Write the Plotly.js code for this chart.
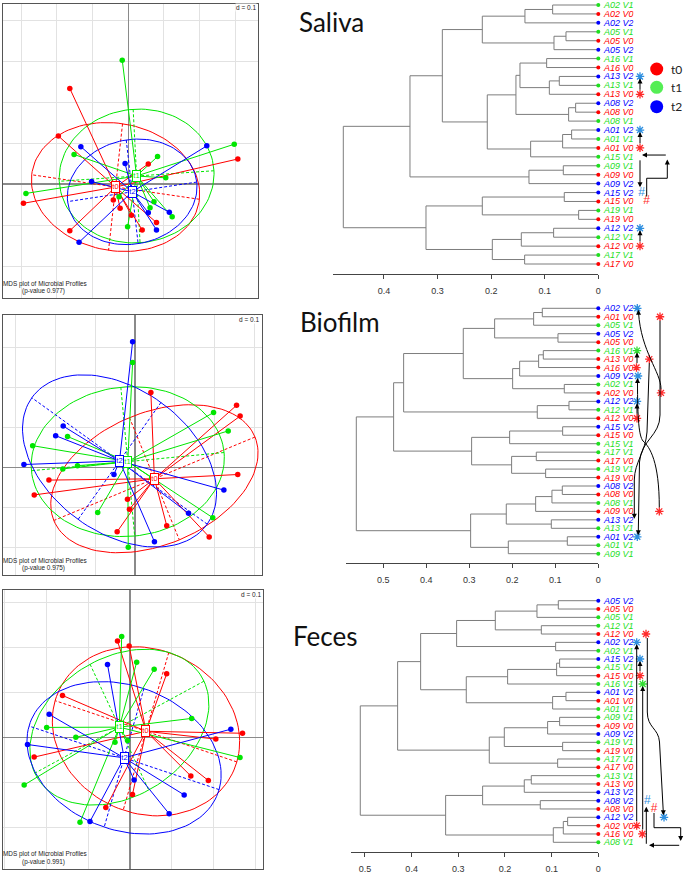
<!DOCTYPE html>
<html><head><meta charset="utf-8">
<script src="https://cdn.plot.ly/plotly-3.0.1.min.js"></script>
<style>html,body{margin:0;padding:0;background:#fff}#chart{width:685px;height:873px}</style>
</head><body><div id="chart"></div>
<script>
// ================= DATA =================
const groupNames = ['t0', 't1', 't2'];
const groupColors = ['#ff0000', '#00e600', '#0000ff'];
const pValues = ['0.977', '0.975', '0.991'];
const panelTitles = ['Saliva', 'Biofilm', 'Feces'];

// MDS coordinates (group t0 = V0, t1 = V1, t2 = V2)
const salivaT0x = [-0.164, -0.196, -0.294, -0.164, -0.042, -0.023, 0.009, 0.039, 0.079, 0.056, 0.307];
const salivaT0y = [0.233, 0.117, -0.047, -0.114, -0.039, -0.059, -0.076, -0.112, -0.094, 0.049, 0.061];
const salivaT1x = [-0.017, -0.152, -0.287, 0.082, 0.105, -0.026, 0.061, 0.072, 0.123, -0.002, 0.297];
const salivaT1y = [0.302, 0.072, -0.023, 0.067, 0.015, -0.031, -0.058, -0.043, -0.080, -0.104, 0.097];
const salivaT2x = [-0.133, -0.103, -0.009, -0.138, 0.056, 0.079, 0.115, 0.220];
const salivaT2y = [0.091, 0.006, 0.050, -0.142, -0.070, -0.112, -0.069, 0.093];

const biofilmT0x = [0.040, 0.256, 0.265, 0.259, -0.217, -0.254, -0.019, -0.014, -0.045, 0.080, 0.187];
const biofilmT0y = [0.188, 0.156, 0.129, -0.017, -0.031, -0.068, -0.079, -0.104, -0.160, -0.145, -0.173];
const biofilmT1x = [-0.006, 0.198, 0.235, -0.170, -0.258, -0.145, -0.182, -0.094, -0.017, 0.196, 0.042];
const biofilmT1y = [0.263, 0.138, 0.092, 0.078, 0.055, 0.005, -0.003, -0.112, -0.199, -0.125, -0.025];
const biofilmT2x = [-0.006, -0.181, -0.200, -0.280, -0.053, 0.224, 0.135, 0.049];
const biofilmT2y = [0.315, 0.104, 0.080, 0.008, -0.017, -0.056, -0.114, -0.185];

const fecesT0x = [-0.030, -0.002, 0.088, -0.162, -0.230, -0.058, 0.006, 0.146, 0.188, 0.206, 0.270];
const fecesT0y = [0.214, 0.203, 0.141, 0.093, -0.044, -0.156, -0.127, -0.086, -0.096, -0.004, 0.009];
const fecesT1x = [-0.020, 0.016, 0.058, 0.148, 0.264, -0.200, -0.130, -0.036, -0.006, -0.254, -0.120];
const fecesT1y = [0.224, 0.167, 0.151, 0.042, -0.045, 0.022, 0.000, -0.011, -0.007, -0.106, -0.189];
const fecesT2x = [-0.054, -0.194, -0.246, 0.242, 0.010, 0.130, 0.094, -0.096];
const fecesT2y = [0.162, 0.051, -0.016, 0.018, -0.095, -0.128, -0.170, -0.187];

// Dendrograms: leaves in display order (top to bottom); merges like R hclust
// (negative = leaf number, positive = earlier merge number)
const salivaLabels = ['A02 V1','A02 V0','A02 V2','A05 V1','A05 V0','A05 V2','A16 V1','A16 V0','A13 V2','A13 V1','A13 V0','A08 V2','A08 V0','A08 V1','A01 V2','A01 V1','A01 V0','A15 V1','A09 V1','A09 V0','A09 V2','A15 V2','A15 V0','A19 V1','A19 V0','A12 V2','A12 V1','A12 V0','A17 V1','A17 V0'];
const salivaMergeA = [-1, 1, -4, 3, 2, -7, -9, 7, 6, -12, 10, 9, -15, 13, 14, 12, 5, -19, 18, 17, -22, -24, 21, -26, 24, -29, 25, 23, 20];
const salivaMergeB = [-2, -3, -5, -6, 4, -8, -10, -11, 8, -13, -14, 11, -16, -17, -18, 15, 16, -20, -21, 19, -23, -25, 22, -27, -28, -30, 26, 27, 28];
const salivaHeights = [0.0852, 0.1369, 0.0603, 0.0827, 0.2165, 0.0964, 0.0728, 0.0914, 0.1462, 0.0423, 0.0554, 0.1537, 0.0498, 0.0666, 0.1263, 0.2072, 0.2911, 0.0653, 0.1294, 0.3515, 0.0635, 0.0367, 0.2165, 0.0834, 0.1437, 0.1375, 0.1978, 0.3216, 0.4759];

const biofilmLabels = ['A02 V2','A01 V0','A05 V1','A05 V2','A05 V0','A16 V1','A13 V0','A16 V0','A09 V2','A02 V1','A02 V0','A12 V2','A12 V1','A12 V0','A15 V2','A15 V0','A15 V1','A17 V1','A17 V0','A19 V1','A19 V0','A08 V2','A08 V0','A08 V1','A09 V0','A13 V2','A13 V1','A01 V2','A01 V1','A09 V1'];
const biofilmMergeA = [-1, 1, -4, 2, -6, 5, 6, -10, 7, 4, -12, 11, 10, -15, 14, -18, -20, 16, 15, 13, -22, 21, 22, -26, 23, -28, 26, 25, 20];
const biofilmMergeB = [-2, -3, -5, 3, -7, -8, -9, -11, 8, 9, -13, -14, 12, -16, -17, -19, -21, 17, 18, 19, -23, -24, -25, -27, 24, -29, -30, 27, 28];
const biofilmHeights = [0.1302, 0.1504, 0.0938, 0.2411, 0.1279, 0.1388, 0.1829, 0.0791, 0.1992, 0.3140, 0.0682, 0.1419, 0.4527, 0.0829, 0.2062, 0.1442, 0.1225, 0.2016, 0.2946, 0.4760, 0.0837, 0.1078, 0.1457, 0.1093, 0.2140, 0.0721, 0.2093, 0.2969, 0.5628];

const fecesLabels = ['A05 V2','A05 V0','A05 V1','A12 V1','A12 V0','A02 V2','A02 V1','A15 V2','A15 V1','A15 V0','A16 V1','A01 V2','A01 V0','A01 V1','A09 V1','A09 V0','A09 V2','A19 V1','A19 V0','A17 V1','A17 V0','A13 V1','A13 V0','A13 V2','A08 V2','A08 V0','A12 V2','A02 V0','A16 V0','A08 V1'];
const fecesMergeA = [-1, 1, -4, 2, -6, 4, -8, 7, 8, -12, 10, 9, 6, -15, 14, -18, 15, -20, 17, 13, -22, 21, -25, 22, -27, 25, 26, 24, 20];
const fecesMergeB = [-2, -3, -5, 3, -7, 5, -9, -10, -11, -13, -14, 11, 12, -16, -17, -19, 16, -21, 18, 19, -23, -24, -26, 23, -28, -29, -30, 27, 28];
const fecesHeights = [0.0857, 0.1314, 0.1221, 0.2207, 0.0914, 0.3036, 0.0829, 0.0893, 0.1943, 0.0693, 0.0979, 0.2829, 0.3807, 0.0829, 0.1086, 0.0764, 0.2014, 0.0871, 0.2336, 0.4300, 0.1436, 0.1586, 0.1243, 0.2479, 0.0657, 0.075, 0.0964, 0.3271, 0.51];

const salivaTicks = [0.4, 0.3, 0.2, 0.1, 0];
const biofilmTicks = [0.5, 0.4, 0.3, 0.2, 0.1, 0];
const fecesTicks = [0.5, 0.4, 0.3, 0.2, 0.1, 0];

// ================= LAYOUT CONSTANTS (pixels) =================
const W = 685, H = 873;
const FONT = 'Liberation Sans, Arial, sans-serif';
const TFONT = 'Lato, Open Sans, sans-serif';
const mdsBox = [
  {l: 2.7, r: 258.3, t: 4, b: 298, ox: 128.3, oy: 184, ux: 35.67, uy: 41, dY: 7.5, t1Y: 284, t2Y: 291},
  {l: 2.7, r: 261.7, t: 315, b: 575, ox: 135, oy: 467.7, ux: 39.67, uy: 40, dY: 319, t1Y: 561, t2Y: 567.8},
  {l: 2.7, r: 263.3, t: 590, b: 869, ox: 130, oy: 737.3, ux: 41.67, uy: 45, dY: 594.3, t1Y: 854.3, t2Y: 861.7}
];
const dendBox = [
  {left: 332.7, zero: 598.3, per01: 53.58, leafTop: 5, leafBottom: 264, axisY: 274, top: 0, titleY: 21.5, titleX: 297},
  {left: 346, zero: 598.3, per01: 43.0, leafTop: 308.3, leafBottom: 553.7, axisY: 562.7, top: 296, titleY: 322, titleX: 298},
  {left: 350.7, zero: 598.3, per01: 46.67, leafTop: 600.7, leafBottom: 842.3, axisY: 851.7, top: 590, titleY: 636, titleX: 291}
];

const mdsData = [
  [[salivaT0x, salivaT0y], [salivaT1x, salivaT1y], [salivaT2x, salivaT2y]],
  [[biofilmT0x, biofilmT0y], [biofilmT1x, biofilmT1y], [biofilmT2x, biofilmT2y]],
  [[fecesT0x, fecesT0y], [fecesT1x, fecesT1y], [fecesT2x, fecesT2y]]
];
const dendData = [
  [salivaLabels, salivaMergeA, salivaMergeB, salivaHeights, salivaTicks],
  [biofilmLabels, biofilmMergeA, biofilmMergeB, biofilmHeights, biofilmTicks],
  [fecesLabels, fecesMergeA, fecesMergeB, fecesHeights, fecesTicks]
];

const traces = [], annotations = [], shapes = [];
const layout = {
  width: W, height: H, margin: {l: 0, r: 0, t: 0, b: 0},
  paper_bgcolor: '#ffffff', plot_bgcolor: 'rgba(0,0,0,0)', showlegend: false,
  font: {family: FONT}
};

// ---- ade4-style ellipse (s.class, cellipse = 1.5) ----
function ellipseOf(xs, ys, coeff) {
  const n = xs.length;
  const mx = xs.reduce((a, b) => a + b, 0) / n;
  const my = ys.reduce((a, b) => a + b, 0) / n;
  let vx = 0, vy = 0, cxy = 0;
  for (let i = 0; i < n; i++) {
    vx += (xs[i] - mx) ** 2 / n; vy += (ys[i] - my) ** 2 / n; cxy += (xs[i] - mx) * (ys[i] - my) / n;
  }
  const delta = Math.sqrt((vx - vy) ** 2 + 4 * cxy * cxy);
  let l1 = (vx + vy + delta) / 2, l2 = vx + vy - l1;
  l1 = Math.sqrt(Math.max(l1, 0)); l2 = Math.sqrt(Math.max(l2, 0));
  let a0 = 1, b0 = 0;
  if (Math.abs(cxy) < 1e-10) { if (vx > vy) { a0 = 1; b0 = 0; } else { a0 = 0; b0 = 1; } }
  else { a0 = 1; b0 = (l1 * l1 - vx) / cxy; const nr = Math.hypot(a0, b0); a0 /= nr; b0 /= nr; }
  const c11 = coeff * a0 * l1, c12 = -coeff * b0 * l2, c21 = coeff * b0 * l1, c22 = coeff * a0 * l2;
  const ex = [], ey = [];
  for (let i = 0; i <= 120; i++) {
    const ang = 2 * Math.PI * i / 120;
    ex.push(mx + c11 * Math.cos(ang) + c12 * Math.sin(ang));
    ey.push(my + c21 * Math.cos(ang) + c22 * Math.sin(ang));
  }
  const axX = [mx + c11, mx - c11, null, mx + c12, mx - c12];
  const axY = [my + c21, my - c21, null, my + c22, my - c22];
  return {mx, my, ex, ey, axX, axY};
}

// ================= MDS PANELS =================
mdsData.forEach((groups, k) => {
  const b = mdsBox[k];
  const xid = 'x' + (k === 0 ? '' : k + 1), yid = 'y' + (k === 0 ? '' : k + 1);
  const xname = 'xaxis' + (k === 0 ? '' : k + 1), yname = 'yaxis' + (k === 0 ? '' : k + 1);
  const common = {showgrid: true, gridcolor: '#e2e2e2', gridwidth: 1, dtick: 0.1, tick0: 0,
    zeroline: true, zerolinecolor: '#8a8a8a', zerolinewidth: 1.3, showline: true, mirror: true,
    linecolor: '#555', linewidth: 1, showticklabels: false, ticks: '', fixedrange: true};
  layout[xname] = Object.assign({}, common, {domain: [b.l / W, b.r / W],
    range: [(b.l - b.ox) / b.ux * 0.1, (b.r - b.ox) / b.ux * 0.1], anchor: yid});
  layout[yname] = Object.assign({}, common, {domain: [1 - b.b / H, 1 - b.t / H],
    range: [(b.oy - b.b) / b.uy * 0.1, (b.oy - b.t) / b.uy * 0.1], anchor: xid});

  const ell = groups.map(g => ellipseOf(g[0], g[1], 1.5));
  groups.forEach((g, gi) => {
    traces.push({type: 'scatter', mode: 'lines', x: ell[gi].ex, y: ell[gi].ey, xaxis: xid, yaxis: yid,
      line: {color: groupColors[gi], width: 1}, hoverinfo: 'skip'});
    traces.push({type: 'scatter', mode: 'lines', x: ell[gi].axX, y: ell[gi].axY, xaxis: xid, yaxis: yid,
      line: {color: groupColors[gi], width: 1, dash: '3px,2px'}, hoverinfo: 'skip'});
  });
  groups.forEach((g, gi) => {
    const sx = [], sy = [];
    g[0].forEach((x, i) => { sx.push(x, ell[gi].mx, null); sy.push(g[1][i], ell[gi].my, null); });
    traces.push({type: 'scatter', mode: 'lines', x: sx, y: sy, xaxis: xid, yaxis: yid,
      line: {color: groupColors[gi], width: 1}, hoverinfo: 'skip'});
  });
  groups.forEach((g, gi) => {
    traces.push({type: 'scatter', mode: 'markers', x: g[0], y: g[1], xaxis: xid, yaxis: yid,
      marker: {color: groupColors[gi], size: 5.5}, hoverinfo: 'skip'});
  });
  groups.forEach((g, gi) => {
    annotations.push({xref: xid, yref: yid, x: ell[gi].mx, y: ell[gi].my, text: groupNames[gi], showarrow: false,
      font: {size: 7.5, color: groupColors[gi], family: FONT}, bgcolor: '#ffffff', bordercolor: groupColors[gi],
      borderwidth: 1, borderpad: 0.3});
  });
  annotations.push({xref: 'x7', yref: 'y7', x: b.r - 1.5, y: b.dY, xanchor: 'right', yanchor: 'middle',
    text: 'd = 0.1', showarrow: false, bgcolor: '#ffffff', borderpad: 0, font: {size: 6.5, color: '#222', family: FONT}});
  annotations.push({xref: 'x7', yref: 'y7', x: 44.5, y: b.t1Y, xanchor: 'center', yanchor: 'middle',
    text: 'MDS plot of Microbial Profiles', showarrow: false, font: {size: 6.4, color: '#222', family: FONT}});
  annotations.push({xref: 'x7', yref: 'y7', x: 43.2, y: b.t2Y, xanchor: 'center', yanchor: 'middle',
    text: '(p-value ' + pValues[k] + ')', showarrow: false, font: {size: 6.4, color: '#222', family: FONT}});
});

// ================= DENDROGRAMS =================
function labelColor(lab) {
  const v = lab.slice(-1);
  return v === '0' ? '#ff0000' : (v === '1' ? '#1ee01e' : '#0000ff');
}
dendData.forEach((d, k) => {
  const [labels, mA, mB, hts, ticks] = d;
  const b = dendBox[k];
  const n = labels.length;
  const sp = (b.leafBottom - b.leafTop) / (n - 1);
  const val = p => 1 + (p - b.leafTop) / sp;
  const ax = k + 4;
  const xid = 'x' + ax, yid = 'y' + ax;
  layout['xaxis' + ax] = {domain: [b.left / W, b.zero / W], range: [(b.zero - b.left) / b.per01 * 0.1, 0],
    anchor: yid, showgrid: false, zeroline: false, showline: true, linecolor: '#444', linewidth: 1,
    ticks: 'outside', ticklen: 4, tickwidth: 1, tickcolor: '#444', tickvals: ticks, ticktext: ticks.map(String),
    tickfont: {size: 9, color: '#333', family: FONT}, ticklabelstandoff: 4, fixedrange: true};
  layout['yaxis' + ax] = {domain: [1 - b.axisY / H, 1 - b.top / H], range: [val(b.axisY), val(b.top)],
    anchor: xid, visible: false, fixedrange: true};

  const nodeY = [], nodeH = [];
  const pos = id => id < 0 ? [-id, 0] : [nodeY[id - 1], nodeH[id - 1]];
  const sx = [], sy = [];
  for (let i = 0; i < mA.length; i++) {
    const [ya, ha] = pos(mA[i]), [yb, hb] = pos(mB[i]), h = hts[i];
    sx.push(ha, h, h, hb, null); sy.push(ya, ya, yb, yb, null);
    nodeY[i] = (ya + yb) / 2; nodeH[i] = h;
  }
  traces.push({type: 'scatter', mode: 'lines', x: sx, y: sy, xaxis: xid, yaxis: yid,
    line: {color: '#7d7d7d', width: 1}, hoverinfo: 'skip', cliponaxis: false});
  const idx = labels.map((_, i) => i + 1);
  traces.push({type: 'scatter', mode: 'markers', x: labels.map(() => 0), y: idx, xaxis: xid, yaxis: yid,
    marker: {color: labels.map(labelColor), size: 4}, hoverinfo: 'skip', cliponaxis: false});
  labels.forEach((lab, i) => {
    annotations.push({xref: xid, yref: yid, x: 0, y: i + 1, xanchor: 'left', yanchor: 'middle', xshift: 3.5,
      height: 8, borderpad: 0,
      text: lab, showarrow: false, font: {size: 9, color: labelColor(lab), family: FONT, style: 'italic'}});
  });
  annotations.push({xref: 'x7', yref: 'y7', x: b.titleX, y: b.titleY, xanchor: 'left', yanchor: 'middle',
    text: panelTitles[k], showarrow: false, font: {size: 26, color: '#111', family: TFONT}});
});

// ================= OVERLAY (pixel space) for legend & change markers =================
layout.xaxis7 = {domain: [0, 1], range: [0, W], visible: false, fixedrange: true, anchor: 'y7'};
layout.yaxis7 = {domain: [0, 1], range: [H, 0], visible: false, fixedrange: true, anchor: 'x7'};

const markColors = {r: '#ff2a2a', g: '#33dd33', b: '#2e8fe0'};
const Lp = (k, i) => dendBox[k].leafTop + (i - 1) * (dendBox[k].leafBottom - dendBox[k].leafTop) / 29;

// [leaf, xpx, symbol, color]
const markSpecs = [
  [[9, 640, '*', 'b'], [11, 640, '*', 'r'], [15, 640, '*', 'b'], [17, 640, '*', 'r'], [22, 641.7, '#', 'b'], [23, 646.7, '#', 'r'], [26, 640, '*', 'b'], [28, 640, '*', 'r']],
  [[1, 637.3, '*', 'b'], [2, 660, '*', 'r'], [6, 637, '*', 'g'], [7, 649.3, '*', 'r'], [8, 636.5, '*', 'r'], [9, 638, '*', 'b'], [11, 661, '*', 'r'], [12, 637, '*', 'b'], [14, 637, '*', 'r'], [25, 659.3, '*', 'r'], [28, 637.3, '*', 'b']],
  [[5, 646, '*', 'r'], [6, 636.7, '*', 'b'], [8, 640, '*', 'b'], [10, 640, '*', 'r'], [11, 642.7, '*', 'g'], [25, 647.3, '#', 'b'], [26, 654, '#', 'r'], [27, 664, '*', 'b'], [28, 636.7, '*', 'r'], [29, 642.3, '*', 'r']]
];
markSpecs.forEach((list, k) => {
  const stars = list.filter(m => m[2] === '*'), hashes = list.filter(m => m[2] === '#');
  const sc = stars.map(m => markColors[m[3]]);
  traces.push({type: 'scatter', mode: 'markers', xaxis: 'x7', yaxis: 'y7', x: stars.map(m => m[1]),
    y: stars.map(m => Lp(k, m[0])), marker: {symbol: 'asterisk-open', size: 7, color: sc,
    line: {color: sc, width: 1.3}}, hoverinfo: 'skip'});
  traces.push({type: 'scatter', mode: 'text', xaxis: 'x7', yaxis: 'y7', x: hashes.map(m => m[1]),
    y: hashes.map(m => Lp(k, m[0])), text: hashes.map(() => '#'),
    textfont: {size: 12, color: hashes.map(m => markColors[m[3]]), family: FONT}, hoverinfo: 'skip'});
});

function arrow(x1, y1, x2, y2) {
  annotations.push({xref: 'x7', yref: 'y7', x: x2, y: y2, ax: x1 - x2, ay: y1 - y2, axref: 'pixel', ayref: 'pixel',
    text: '', showarrow: true, arrowhead: 2, arrowsize: 1, arrowwidth: 1, arrowcolor: '#000', standoff: 0, startstandoff: 0});
}
function head(x, y, dir) {
  const o = {up: [0, 5], down: [0, -5], left: [5, 0], right: [-5, 0]}[dir];
  arrow(x + o[0], y + o[1], x, y);
}
function pathShape(d) {
  shapes.push({type: 'path', xref: 'x7', yref: 'y7', path: d, line: {color: '#000', width: 1}});
}
// Saliva
[[640, 11, 9], [640, 17, 15], [640, 28, 26]].forEach(a => arrow(a[0], Lp(0, a[1]) - 3, a[0], Lp(0, a[2]) + 2));
pathShape(`M 646.7 ${Lp(0, 23) - 5} L 646.7 ${Lp(0, 20.4)} L 667.3 ${Lp(0, 20.4)} L 667.3 ${Lp(0, 18.6)}`);
head(667.3, Lp(0, 18.3), 'up');
arrow(667.3, Lp(0, 17.8), 642, Lp(0, 17.8));
arrow(640, Lp(0, 18) + 2, 640, Lp(0, 21.4));
// Biofilm
[[637, 8, 6], [637, 14, 12]].forEach(a => arrow(a[0], Lp(1, a[1]) - 3, a[0], Lp(1, a[2]) + 2));
pathShape(`M 661 ${Lp(1, 11) - 4} C 661 372, 641 352, 638.5 ${Lp(1, 1) + 4}`);
head(638.5, Lp(1, 1) + 1.5, 'up');
pathShape(`M 660 ${Lp(1, 2) + 4} L 660 415 C 660 436, 641 440, 639.5 462 L 638.3 ${Lp(1, 28) - 5}`);
head(638.3, Lp(1, 28) - 1.5, 'down');
pathShape(`M 649.3 ${Lp(1, 7) + 4} L 647 432 C 645.5 452, 634.6 462, 634.3 480 L 634.3 ${Lp(1, 26) - 4}`);
head(634.3, Lp(1, 26) - 1, 'down');
pathShape(`M 659.3 ${Lp(1, 25) - 4} C 659.3 462, 650 447, 643 441 C 639 436, 637.5 420, 637.5 ${Lp(1, 9) + 5}`);
head(637.5, Lp(1, 9) + 2, 'up');
// Feces
[[636.7, 28, 6], [640, 10, 8], [642.7, 29, 11]].forEach(a => arrow(a[0], Lp(2, a[1]) - 3, a[0], Lp(2, a[2]) + 2));
pathShape(`M 647.3 ${Lp(2, 5) + 4} L 647.3 712 C 647.3 728, 658.5 728, 659.5 742 L 663.3 ${Lp(2, 27) - 5}`);
head(663.3, Lp(2, 27) - 2, 'down');
pathShape(`M 654 ${Lp(2, 26) + 4} L 654 827.7 L 680.7 827.7 L 680.7 838`);
head(680.7, 841, 'down');
arrow(680.7, 845.3, 649, 845.3);
arrow(646.3, 845.3, 646.3, Lp(2, 25) + 6);

// Legend
const legendColors = ['#ff0000', '#55ee55', '#0000ff'];
const legendY = [69, 87.3, 106.7];
traces.push({type: 'scatter', mode: 'markers', xaxis: 'x7', yaxis: 'y7', x: legendY.map(() => 656.7), y: legendY,
  marker: {color: legendColors, size: 13}, hoverinfo: 'skip'});
groupNames.forEach((g, i) => annotations.push({xref: 'x7', yref: 'y7', x: 669, y: legendY[i], xanchor: 'left',
  yanchor: 'middle', text: g, showarrow: false, font: {size: 12, color: '#222', family: TFONT}}));

layout.annotations = annotations;
layout.shapes = shapes;
Plotly.newPlot('chart', traces, layout, {staticPlot: true, displayModeBar: false});
</script></body></html>
